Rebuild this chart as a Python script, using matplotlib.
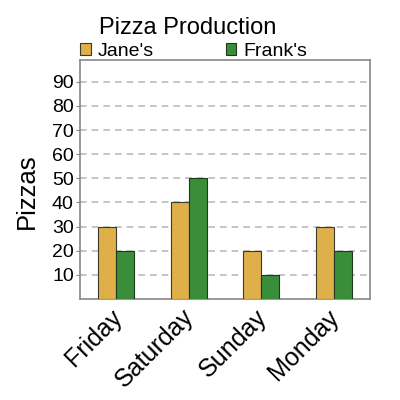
import matplotlib.pyplot as plt
import matplotlib.transforms as mtransforms
import numpy as np

plt.rcParams["font.family"] = ["Liberation Sans", "DejaVu Sans"]

days = ["Friday", "Saturday", "Sunday", "Monday"]
janes = [30, 40, 20, 30]
franks = [20, 50, 10, 20]
y_ticks = [10, 20, 30, 40, 50, 60, 70, 80, 90]

fig = plt.figure(figsize=(4, 4), dpi=100)
ax = fig.add_axes([0.20, 0.2525, 0.725, 0.5975])

x = np.arange(len(days))
w = 0.25
ax.bar(x - w / 2, janes, w, color="#dfb04a", edgecolor="#3a3a2a", linewidth=0.8, label="Jane's", zorder=3)
ax.bar(x + w / 2, franks, w, color="#3a8e3a", edgecolor="#1e3a1e", linewidth=0.8, label="Frank's", zorder=3)

ax.set_xlim(-0.5, len(days) - 0.5)
ax.set_ylim(0, 99)
ax.set_yticks(y_ticks)
ax.set_xticks(x)
ax.set_xticklabels(days, rotation=45, ha="right", va="center_baseline",
                   rotation_mode="anchor", fontsize=18)
# nudge rotated labels left so their ends sit under the group centres
shift = mtransforms.ScaledTranslation(-7 / 72, 0, fig.dpi_scale_trans)
for lbl in ax.get_xticklabels():
    lbl.set_transform(lbl.get_transform() + shift)
ax.tick_params(axis="x", length=0, pad=9)
ax.tick_params(axis="y", labelsize=14, length=3, pad=1.5, color="#888888")
ax.yaxis.grid(True, linestyle=(0, (4, 3)), color="#bbbbbb", linewidth=1.2, zorder=0)
for s in ax.spines.values():
    s.set_color("#888888")
    s.set_linewidth(1.2)

ax.set_ylabel("Pizzas", fontsize=18.5)
ax.yaxis.set_label_coords(-0.141, 0.45)

ax.legend(loc="lower left", bbox_to_anchor=(0.0, 1.0), ncol=2, frameon=False,
          fontsize=14, handlelength=0.55, handleheight=0.55, handletextpad=0.35,
          columnspacing=3.7, borderaxespad=0, borderpad=0)
fig.text(0.468, 0.93, "Pizza Production", fontsize=17, ha="center", va="center")

fig.savefig("out.png", dpi=100)
